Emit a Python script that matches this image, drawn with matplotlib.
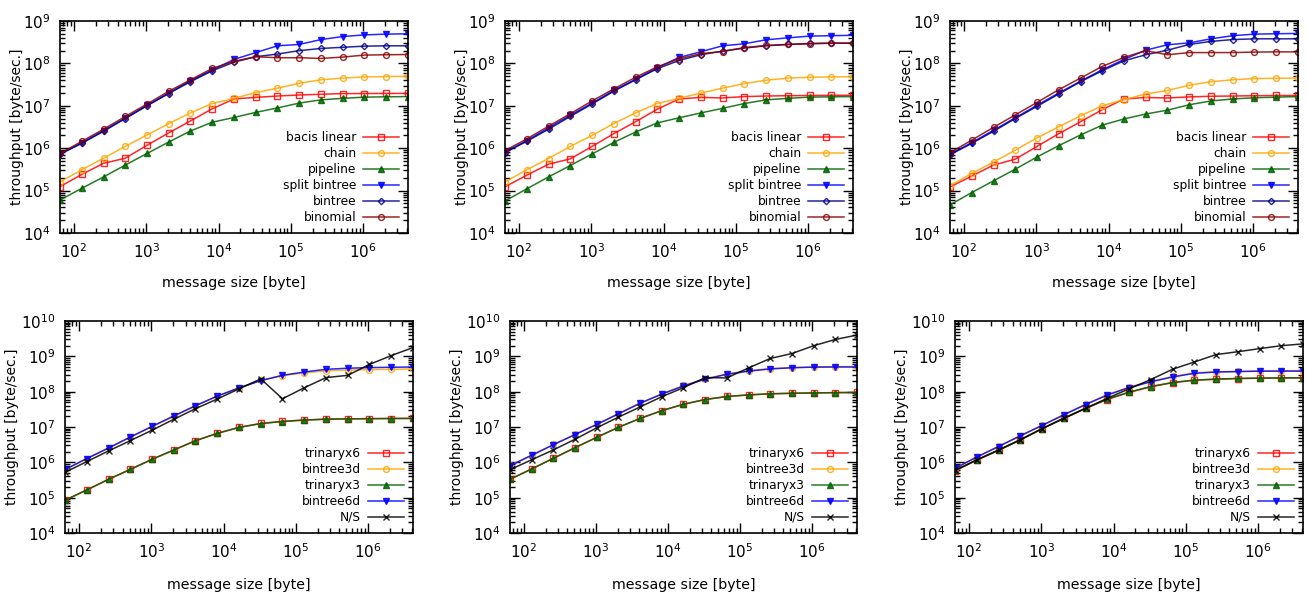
import matplotlib
matplotlib.use("Agg")
import matplotlib.pyplot as plt
from matplotlib.ticker import LogLocator, NullFormatter, LogFormatterMathtext

# message sizes [byte]
sizes = [64, 128, 256, 512, 1024, 2048, 4096, 8192, 16384, 32768, 65536,
         131072, 262144, 524288, 1048576, 2097152, 4194304]

# --- top row: collective algorithms (three runs) ---
top_names = ["bacis linear", "chain", "pipeline", "split bintree", "bintree", "binomial"]

t1_linear = [1.24e5, 2.4e5, 4.4e5, 5.8e5, 1.17e6, 2.3e6, 4.4e6, 8.5e6, 1.45e7, 1.58e7,
             1.7e7, 1.8e7, 1.87e7, 1.94e7, 1.95e7, 1.96e7, 1.96e7]
t1_chain = [1.6e5, 3.1e5, 5.8e5, 1.1e6, 2.05e6, 3.8e6, 6.8e6, 1.13e7, 1.5e7, 2.05e7,
            2.6e7, 3.4e7, 4.1e7, 4.5e7, 4.8e7, 4.9e7, 4.95e7]
t1_pipe = [6.0e4, 1.13e5, 2.1e5, 4.0e5, 7.5e5, 1.4e6, 2.55e6, 4.1e6, 5.3e6, 7.0e6,
           8.9e6, 1.16e7, 1.38e7, 1.5e7, 1.6e7, 1.63e7, 1.65e7]
t1_split = [7.4e5, 1.33e6, 2.6e6, 5.1e6, 1.02e7, 2.0e7, 3.9e7, 7.0e7, 1.24e8, 1.8e8,
            2.6e8, 2.8e8, 3.65e8, 4.3e8, 4.7e8, 4.9e8, 5.0e8]
t1_bintree = [7.2e5, 1.3e6, 2.5e6, 5.0e6, 1.0e7, 1.95e7, 3.7e7, 6.7e7, 1.07e8, 1.44e8,
              1.66e8, 2.0e8, 2.25e8, 2.4e8, 2.55e8, 2.6e8, 2.6e8]
t1_binom = [7.5e5, 1.45e6, 2.8e6, 5.6e6, 1.1e7, 2.2e7, 4.1e7, 7.6e7, 1.12e8, 1.44e8,
            1.36e8, 1.36e8, 1.31e8, 1.41e8, 1.57e8, 1.6e8, 1.62e8]

t2_linear = [1.23e5, 2.3e5, 4.2e5, 5.6e5, 1.1e6, 2.2e6, 4.2e6, 8.3e6, 1.45e7, 1.58e7,
             1.53e7, 1.65e7, 1.7e7, 1.73e7, 1.75e7, 1.77e7, 1.77e7]
t2_chain = [1.6e5, 3.1e5, 5.7e5, 1.1e6, 2.0e6, 3.8e6, 6.8e6, 1.13e7, 1.5e7, 2.0e7,
            2.6e7, 3.35e7, 4.0e7, 4.5e7, 4.7e7, 4.8e7, 4.85e7]
t2_pipe = [5.7e4, 1.1e5, 2.1e5, 3.9e5, 7.3e5, 1.37e6, 2.4e6, 3.95e6, 5.2e6, 6.8e6,
           8.7e6, 1.13e7, 1.38e7, 1.5e7, 1.6e7, 1.63e7, 1.65e7]
t2_split = [8.1e5, 1.5e6, 3.0e6, 6.0e6, 1.15e7, 2.3e7, 4.2e7, 7.9e7, 1.38e8, 1.88e8,
            2.6e8, 2.9e8, 3.6e8, 4.0e8, 4.4e8, 4.5e8, 4.6e8]
t2_bintree = [7.9e5, 1.45e6, 2.8e6, 5.6e6, 1.1e7, 2.2e7, 4.1e7, 7.5e7, 1.17e8, 1.6e8,
              1.95e8, 2.3e8, 2.6e8, 2.8e8, 2.95e8, 3.0e8, 3.0e8]
t2_binom = [8.8e5, 1.65e6, 3.3e6, 6.5e6, 1.3e7, 2.5e7, 4.7e7, 8.3e7, 1.28e8, 1.7e8,
            1.9e8, 2.35e8, 2.65e8, 2.8e8, 2.9e8, 3.0e8, 3.0e8]

t3_linear = [1.22e5, 2.2e5, 4.0e5, 5.5e5, 1.1e6, 2.2e6, 4.2e6, 8.1e6, 1.45e7, 1.57e7,
             1.53e7, 1.62e7, 1.68e7, 1.7e7, 1.73e7, 1.75e7, 1.75e7]
t3_chain = [1.3e5, 2.55e5, 4.7e5, 9.0e5, 1.75e6, 3.2e6, 5.8e6, 1.0e7, 1.4e7, 1.9e7,
            2.3e7, 3.05e7, 3.7e7, 4.1e7, 4.4e7, 4.45e7, 4.5e7]
t3_pipe = [4.6e4, 9.0e4, 1.7e5, 3.2e5, 6.2e5, 1.15e6, 2.05e6, 3.5e6, 4.9e6, 6.4e6,
           7.9e6, 1.06e7, 1.3e7, 1.45e7, 1.55e7, 1.6e7, 1.65e7]
t3_split = [7.2e5, 1.35e6, 2.65e6, 5.2e6, 1.03e7, 2.0e7, 3.8e7, 7.1e7, 1.24e8, 2.05e8,
            2.75e8, 3.05e8, 3.8e8, 4.5e8, 4.9e8, 5.0e8, 5.1e8]
t3_bintree = [7.0e5, 1.3e6, 2.5e6, 5.0e6, 9.7e6, 1.9e7, 3.7e7, 6.7e7, 1.15e8, 1.6e8,
              2.05e8, 2.8e8, 3.3e8, 3.65e8, 3.8e8, 3.8e8, 3.8e8]
t3_binom = [7.8e5, 1.55e6, 3.1e6, 6.1e6, 1.2e7, 2.4e7, 4.5e7, 8.5e7, 1.38e8, 2.0e8,
            1.6e8, 1.8e8, 1.8e8, 1.8e8, 1.85e8, 1.87e8, 1.87e8]

# --- bottom row: topology variants (three runs) ---
bot_names = ["trinaryx6", "bintree3d", "trinaryx3", "bintree6d", "N/S"]

b1_tri6 = [8.5e4, 1.66e5, 3.3e5, 6.3e5, 1.22e6, 2.24e6, 4.1e6, 6.6e6, 9.8e6, 1.26e7,
           1.44e7, 1.58e7, 1.67e7, 1.7e7, 1.72e7, 1.74e7, 1.75e7]
b1_bt3 = [6.1e5, 1.26e6, 2.5e6, 5.1e6, 1.02e7, 2.0e7, 4.0e7, 7.4e7, 1.28e8, 2.1e8,
          2.85e8, 3.4e8, 3.9e8, 4.1e8, 4.2e8, 4.3e8, 4.4e8]
b1_tri3 = [8.4e4, 1.65e5, 3.3e5, 6.3e5, 1.21e6, 2.22e6, 4.1e6, 6.6e6, 9.7e6, 1.25e7,
           1.43e7, 1.57e7, 1.66e7, 1.7e7, 1.72e7, 1.74e7, 1.75e7]
b1_bt6 = [6.3e5, 1.28e6, 2.55e6, 5.2e6, 1.04e7, 2.05e7, 4.0e7, 7.5e7, 1.28e8, 2.05e8,
          2.9e8, 3.6e8, 4.3e8, 4.6e8, 4.8e8, 4.9e8, 5.0e8]
b1_ns = [5.2e5, 1.05e6, 2.1e6, 4.1e6, 8.1e6, 1.65e7, 3.3e7, 6.2e7, 1.2e8, 2.3e8,
         6.3e7, 1.29e8, 2.5e8, 2.9e8, 5.9e8, 1.05e9, 1.77e9]

b2_tri6 = [3.3e5, 6.5e5, 1.3e6, 2.6e6, 5.1e6, 9.8e6, 1.75e7, 2.9e7, 4.4e7, 6.0e7,
           7.3e7, 8.1e7, 8.7e7, 9.0e7, 9.2e7, 9.4e7, 9.5e7]
b2_bt3 = [8.2e5, 1.6e6, 3.2e6, 6.2e6, 1.2e7, 2.4e7, 4.8e7, 8.7e7, 1.5e8, 2.3e8,
          3.2e8, 3.95e8, 4.5e8, 4.8e8, 5.0e8, 5.1e8, 5.1e8]
b2_tri3 = [3.3e5, 6.5e5, 1.3e6, 2.6e6, 5.1e6, 9.8e6, 1.75e7, 2.9e7, 4.4e7, 6.0e7,
           7.3e7, 8.1e7, 8.7e7, 9.0e7, 9.2e7, 9.4e7, 9.5e7]
b2_bt6 = [8.0e5, 1.58e6, 3.15e6, 6.1e6, 1.18e7, 2.35e7, 4.7e7, 8.5e7, 1.45e8, 2.25e8,
          3.1e8, 3.8e8, 4.4e8, 4.75e8, 4.95e8, 5.0e8, 5.0e8]
b2_ns = [6.2e5, 1.18e6, 2.25e6, 4.5e6, 9.5e6, 1.9e7, 3.7e7, 7.2e7, 1.3e8, 2.5e8,
         2.45e8, 4.7e8, 8.7e8, 1.2e9, 2.0e9, 3.0e9, 4.0e9]

b3_tri6 = [5.8e5, 1.15e6, 2.2e6, 4.3e6, 8.9e6, 1.75e7, 3.35e7, 6.0e7, 9.5e7, 1.37e8,
           1.8e8, 2.1e8, 2.25e8, 2.35e8, 2.4e8, 2.45e8, 2.45e8]
b3_bt3 = [6.9e5, 1.42e6, 2.85e6, 5.7e6, 1.12e7, 2.25e7, 4.4e7, 8.3e7, 1.35e8, 1.95e8,
          2.7e8, 3.4e8, 3.65e8, 3.75e8, 3.85e8, 3.9e8, 3.9e8]
b3_tri3 = [5.9e5, 1.17e6, 2.25e6, 4.4e6, 9.0e6, 1.78e7, 3.4e7, 6.2e7, 9.7e7, 1.4e8,
           1.82e8, 2.12e8, 2.27e8, 2.37e8, 2.42e8, 2.46e8, 2.47e8]
b3_bt6 = [6.8e5, 1.4e6, 2.8e6, 5.6e6, 1.1e7, 2.2e7, 4.3e7, 8.0e7, 1.3e8, 1.9e8,
          2.6e8, 3.3e8, 3.6e8, 3.7e8, 3.8e8, 3.82e8, 3.82e8]
b3_ns = [5.9e5, 1.17e6, 2.2e6, 4.3e6, 8.9e6, 1.75e7, 3.35e7, 6.5e7, 1.2e8, 2.2e8,
         4.3e8, 6.9e8, 1.12e9, 1.35e9, 1.65e9, 2.0e9, 2.25e9]

# gnuplot-like series styles: (color, marker, filled)
top_styles = [("#ff0000", "s", False), ("#ffa500", "o", False), ("#006400", "^", True),
              ("#0000ff", "v", True), ("#00008b", "D", False), ("#8b0000", "o", False)]
bot_styles = [("#ff0000", "s", False), ("#ffa500", "o", False), ("#006400", "^", True),
              ("#0000ff", "v", True), ("#000000", "x", False)]

top_runs = [
    [t1_linear, t1_chain, t1_pipe, t1_split, t1_bintree, t1_binom],
    [t2_linear, t2_chain, t2_pipe, t2_split, t2_bintree, t2_binom],
    [t3_linear, t3_chain, t3_pipe, t3_split, t3_bintree, t3_binom],
]
bot_runs = [
    [b1_tri6, b1_bt3, b1_tri3, b1_bt6, b1_ns],
    [b2_tri6, b2_bt3, b2_tri3, b2_bt6, b2_ns],
    [b3_tri6, b3_bt3, b3_tri3, b3_bt6, b3_ns],
]

W, H = 1307, 594
fig = plt.figure(figsize=(W / 100, H / 100), dpi=100)
plt.rcParams["font.family"] = ["DejaVu Sans"]

# axes boxes in pixels: (left, top, right, bottom)
top_boxes = [(60, 21, 408, 233), (505, 21, 853, 233), (950, 21, 1298, 233)]
bot_boxes = [(65, 321, 413, 533), (510, 321, 857, 533), (955, 321, 1303, 533)]


def make_axes(box):
    l, t, r, b = box
    return fig.add_axes([l / W, 1 - b / H, (r - l) / W, (b - t) / H])


def style_axes(ax, ymin, ymax, ylab_off, xlab_off):
    ax.set_xscale("log")
    ax.set_yscale("log")
    ax.set_xlim(64, 4194304)
    ax.set_ylim(ymin, ymax)
    ax.xaxis.set_major_locator(LogLocator(base=10, numticks=20))
    ax.xaxis.set_minor_locator(LogLocator(base=10, subs=range(2, 10), numticks=20))
    ax.yaxis.set_major_locator(LogLocator(base=10, numticks=20))
    ax.yaxis.set_minor_locator(LogLocator(base=10, subs=range(2, 10), numticks=20))
    ax.xaxis.set_major_formatter(LogFormatterMathtext())
    ax.yaxis.set_major_formatter(LogFormatterMathtext())
    ax.xaxis.set_minor_formatter(NullFormatter())
    ax.yaxis.set_minor_formatter(NullFormatter())
    ax.tick_params(which="both", direction="in", top=True, right=True, width=1)
    ax.tick_params(which="major", length=7, labelsize=11, pad=7)
    ax.tick_params(which="minor", length=3.5)
    for s in ax.spines.values():
        s.set_linewidth(1.2)
    ax.set_xlabel("message size [byte]", fontsize=10.2, va="center")
    ax.set_ylabel("throughput [byte/sec.]", fontsize=10, va="center")
    # label centres placed in pixels relative to the axes box
    ax.yaxis.set_label_coords(-ylab_off / 348, 0.5)
    ax.xaxis.set_label_coords(0.5, -xlab_off / 212)


def plot_panel(ax, series, names, styles):
    for ys, name, (c, m, filled) in zip(series, names, styles):
        ax.plot(sizes, ys, color=c, lw=1.1, alpha=0.85, marker=m,
                ms=4.2 if m != "D" else 3.2, mew=1.0,
                mfc=c if filled else "none", mec=c, label=name)
    leg = ax.legend(loc="lower right", frameon=False, markerfirst=False,
                    fontsize=8.8, handlelength=2.9, handletextpad=0.6,
                    labelspacing=0.24, borderaxespad=0.35)
    for t in leg.get_texts():
        t.set_ha("right")


for box, series in zip(top_boxes, top_runs):
    ax = make_axes(box)
    plot_panel(ax, series, top_names, top_styles)
    style_axes(ax, 1e4, 1e9, 43, 50)

for box, series in zip(bot_boxes, bot_runs):
    ax = make_axes(box)
    plot_panel(ax, series, bot_names, bot_styles)
    style_axes(ax, 1e4, 1e10, 53, 52)

fig.savefig("out.png", dpi=100)
